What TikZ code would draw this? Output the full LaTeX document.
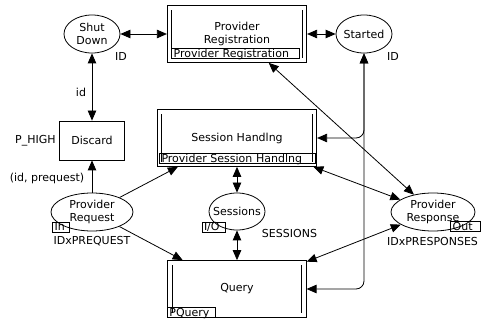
\documentclass[tikz,border=0pt]{standalone}
\usepackage{fontspec}
\setmainfont{DejaVu Sans}
\usepackage{tikz}
\usetikzlibrary{shapes.geometric, arrows.meta, positioning}

\tikzset{
  place/.style={draw, ellipse, line width=0.8pt, inner xsep=-6pt, inner ysep=0pt,
    minimum width=56pt, minimum height=38pt, align=center},
  trans/.style={draw, rectangle, line width=0.8pt, minimum width=65pt, minimum height=39pt},
  subst/.style={draw, double, line width=0.8pt, double distance=3.6pt, outer sep=2.6pt,
    minimum height=52.5pt, align=center},
  tag/.style={draw, line width=0.8pt, inner xsep=2pt, inner ysep=0pt, outer sep=0pt,
    text height=8.3pt, text depth=1.7pt, text width=#1, align=left},
  oneway/.style={line width=0.8pt, -{Triangle[length=10pt,width=8.5pt]}},
  twoway/.style={line width=0.8pt, {Triangle[length=10pt,width=8.5pt]}-{Triangle[length=10pt,width=8.5pt]}},
}

\begin{document}
\begin{tikzpicture}[x=1pt, y=-1pt, font=\fontsize{11}{13}\selectfont]
  \useasboundingbox (0,0) rectangle (483,321);

  % places
  \node[place] (sd) at (92,34) {Shut\\Down};
  \node[place] (st) at (364,34) {Started};
  \node[place, minimum width=82pt] (preq) at (92,212) {Provider\\Request};
  \node[place, minimum height=37pt] (sess) at (237,211.5) {Sessions};
  \node[place, minimum width=84pt] (presp) at (433,212) {Provider\\Response};

  % transitions
  \node[trans] (dis) at (92,140.5) {Discard};
  \node[subst, minimum width=135pt] (pr) at (237,34) {Provider\\Registration};
  \node[subst, minimum width=155pt] (sh) at (237,138) {Session Handlng};
  \node[subst, minimum width=134pt] (q) at (237,289) {Query};

  % subpage and port tags
  \node[tag=124pt, anchor=south west] (prtag) at ([shift={(4.8,-4)}]pr.south west) {Provider Registration};
  \node[tag=152pt, anchor=south west] (shtag) at ([shift={(2.6,-3)}]sh.south west) {Provider Session Handlng};
  \node[tag=44pt, anchor=south west] (qtag) at (q.south west) {PQuery};
  \node[tag=12.6pt, anchor=south west] (intag) at (52.7,232.3) {In};
  \node[tag=19pt, anchor=south west] (iotag) at (202,232.3) {I/O};
  \node[tag=25.3pt, anchor=south east] (outtag) at (480,231.7) {Out};

  % colour sets, priority and inscriptions
  \node (sdtype) at (121,56) {ID};
  \node (sttype) at (393,56) {ID};
  \node[left=0pt of dis] (prio) {P\_HIGH};
  \node (idlab) at (81,92) {id};
  \node (reqlab) at (47,178) {(id, prequest)};
  \node (preqtype) at (92,241) {IDxPREQUEST};
  \node (sesstype) at (289.5,233) {SESSIONS};
  \node (presptype) at (432.5,241) {IDxPRESPONSES};

  % arcs
  \draw[twoway] (sd) -- (pr);
  \draw[twoway] (pr) -- (st);
  \draw[twoway] (sd) -- (dis);
  \draw[oneway] (preq) -- (dis);
  \draw[oneway] (preq) -- (sh.206);
  \draw[oneway] (preq) -- (q);
  \draw[twoway] (sh) -- (sess);
  \draw[twoway] (sess) -- (q);
  \draw[twoway] (pr) -- (presp);
  \draw[twoway] (sh) -- (presp);
  \draw[twoway] (q) -- (presp);
  \draw[twoway, rounded corners=8pt] (st) |- (sh);
  \draw[twoway, rounded corners=8pt] (st) |- (q);
\end{tikzpicture}
\end{document}
